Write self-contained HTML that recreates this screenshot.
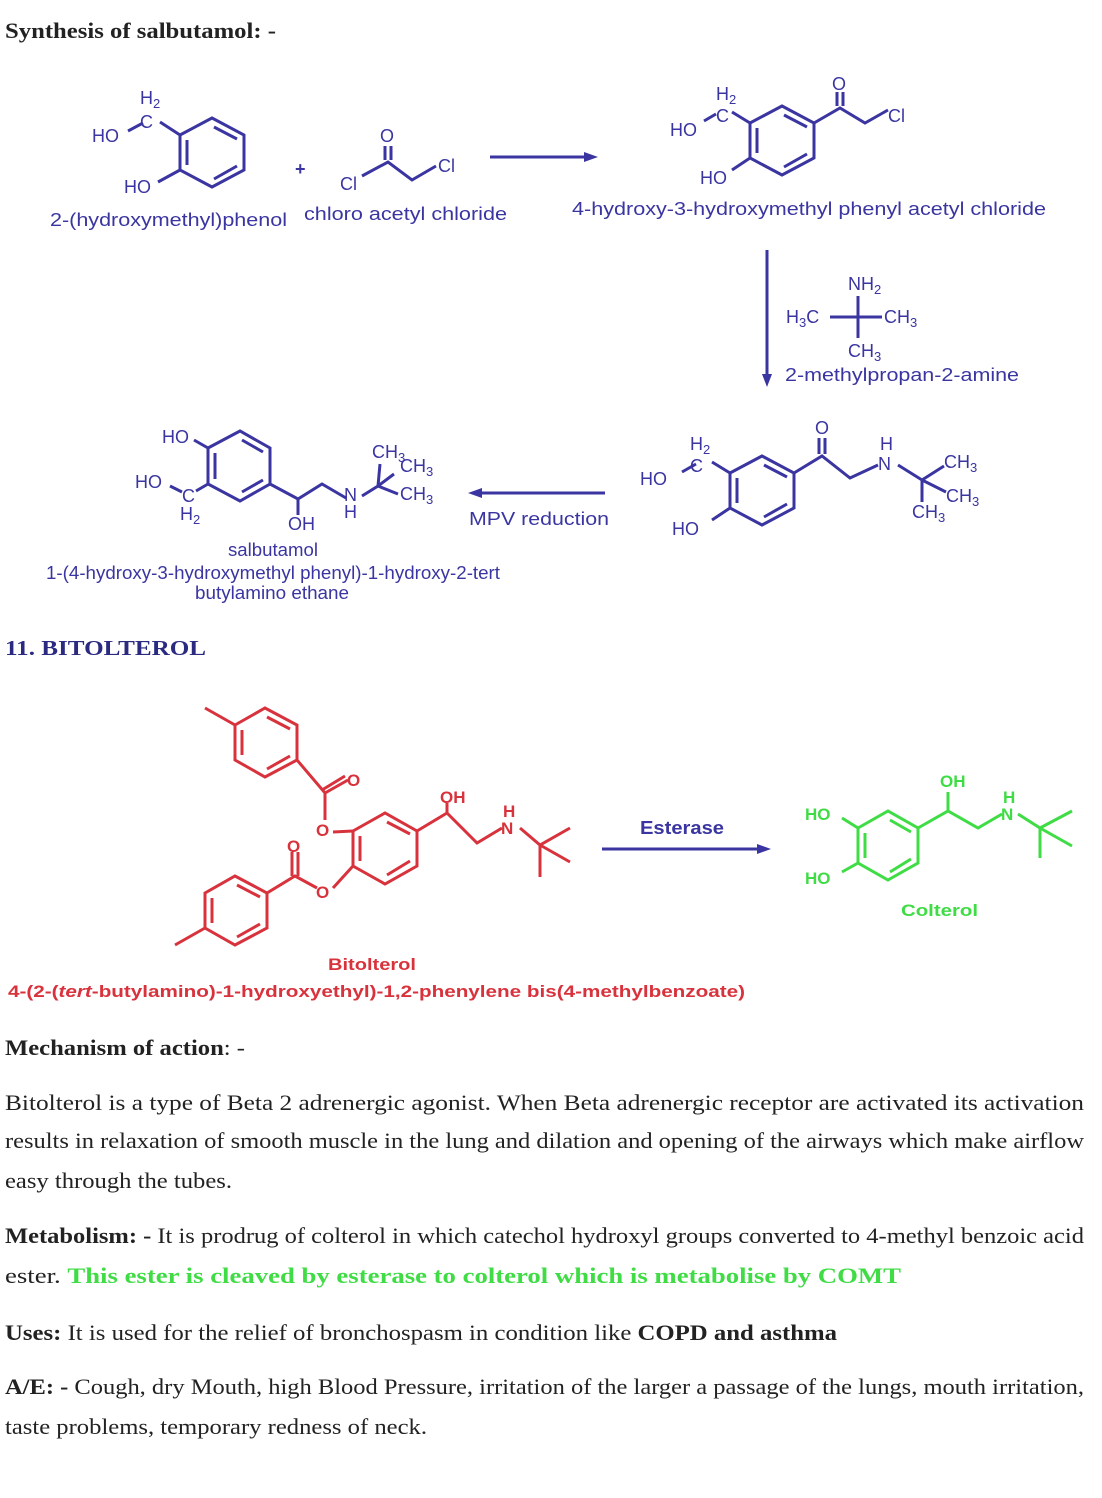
<!DOCTYPE html>
<html><head><meta charset="utf-8"><style>
html,body{margin:0;padding:0;background:#fff;}
svg{display:block}
.b{fill:none;stroke:#3a35a0;stroke-width:3}
.r{fill:none;stroke:#d8323c;stroke-width:3}
.g{fill:none;stroke:#3fdc45;stroke-width:3}
.tb{font-family:"Liberation Sans",sans-serif;fill:#3a35a0;font-size:18px}
.tr{font-family:"Liberation Sans",sans-serif;fill:#d8323c;font-size:17px;font-weight:bold}
.tg{font-family:"Liberation Sans",sans-serif;fill:#3fdc45;font-size:17px;font-weight:bold}
.s{font-family:"Liberation Serif",serif;font-size:22px;fill:#222}
</style></head><body>
<svg width="1102" height="1498" viewBox="0 0 1102 1498" xmlns="http://www.w3.org/2000/svg">
<text class="s" x="5" y="38" font-weight="bold" textLength="271" lengthAdjust="spacingAndGlyphs">Synthesis of salbutamol: -</text>

<!-- structure 1 -->
<polygon class="b" points="180,135 212,118 244,135 244,170 212,187 180,170"/>
<path class="b" d="M187,140 L187,165 M214,127 L237,139 M237,166 L214,179"/>
<path class="b" d="M180,135 L160,122 M143,123 L128,131 M180,170 L158,182"/>
<text class="tb" x="140" y="104">H<tspan font-size="13" dy="4">2</tspan></text>
<text class="tb" x="140" y="128">C</text>
<text class="tb" x="92" y="142">HO</text>
<text class="tb" x="124" y="193">HO</text>
<text class="tb" x="295" y="175" font-weight="bold" font-size="20">+</text>
<text class="tb" x="340" y="190">Cl</text>
<text class="tb" x="380" y="142">O</text>
<path class="b" d="M362,176 L388,162 L412,180 L436,166 M385,160 L385,146 M391,160 L391,146"/>
<text class="tb" x="438" y="172">Cl</text>
<text class="tb" x="50" y="226" font-size="19" textLength="237" lengthAdjust="spacingAndGlyphs">2-(hydroxymethyl)phenol</text>
<text class="tb" x="304" y="220" font-size="19" textLength="203" lengthAdjust="spacingAndGlyphs">chloro acetyl chloride</text>
<path class="b" d="M490,157 L590,157"/><polygon points="598,157 584,152 584,162" fill="#3a35a0"/>

<!-- product 1 -->
<polygon class="b" points="750,123 782,106 814,123 814,158 782,175 750,158"/>
<path class="b" d="M757,128 L757,153 M784,115 L807,127 M807,154 L784,167"/>
<path class="b" d="M750,123 L732,112 M716,114 L704,121 M750,158 L732,170 M814,123 L840,108 L865,123 L888,110 M837,106 L837,92 M843,106 L843,92"/>
<text class="tb" x="716" y="100">H<tspan font-size="13" dy="4">2</tspan></text>
<text class="tb" x="716" y="122">C</text>
<text class="tb" x="670" y="136">HO</text>
<text class="tb" x="700" y="184">HO</text>
<text class="tb" x="832" y="90">O</text>
<text class="tb" x="888" y="122">Cl</text>
<text class="tb" x="572" y="215" font-size="19" textLength="474" lengthAdjust="spacingAndGlyphs">4-hydroxy-3-hydroxymethyl phenyl acetyl chloride</text>

<path class="b" d="M767,250 L767,378" stroke-width="2"/><polygon points="767,387 762,374 772,374" fill="#3a35a0"/>
<text class="tb" x="848" y="290">NH<tspan font-size="13" dy="4">2</tspan></text>
<text class="tb" x="786" y="323">H<tspan font-size="13" dy="4">3</tspan><tspan dy="-4">C</tspan></text>
<text class="tb" x="884" y="323">CH<tspan font-size="13" dy="4">3</tspan></text>
<text class="tb" x="848" y="357">CH<tspan font-size="13" dy="4">3</tspan></text>
<path class="b" d="M830,317 L882,317 M858,296 L858,338" stroke-width="2"/>
<text class="tb" x="785" y="381" font-size="19" textLength="234" lengthAdjust="spacingAndGlyphs">2-methylpropan-2-amine</text>

<!-- intermediate -->
<polygon class="b" points="730,473 762,456 794,473 794,508 762,525 730,508"/>
<path class="b" d="M737,478 L737,503 M764,465 L787,477 M787,504 L764,517"/>
<path class="b" d="M730,473 L712,462 M696,464 L682,472 M730,508 L712,520 M794,473 L822,456 L850,478 L878,465 M819,454 L819,438 M825,454 L825,438 M898,465 L922,480 L944,466 M922,480 L946,492 M922,480 L922,502"/>
<text class="tb" x="690" y="450">H<tspan font-size="13" dy="4">2</tspan></text>
<text class="tb" x="690" y="472">C</text>
<text class="tb" x="640" y="485">HO</text>
<text class="tb" x="672" y="535">HO</text>
<text class="tb" x="815" y="434">O</text>
<text class="tb" x="880" y="450">H</text>
<text class="tb" x="878" y="470">N</text>
<text class="tb" x="944" y="468">CH<tspan font-size="13" dy="4">3</tspan></text>
<text class="tb" x="946" y="502">CH<tspan font-size="13" dy="4">3</tspan></text>
<text class="tb" x="912" y="518">CH<tspan font-size="13" dy="4">3</tspan></text>

<path class="b" d="M605,493 L478,493" stroke-width="2"/><polygon points="468,493 482,488 482,498" fill="#3a35a0"/>
<text class="tb" x="469" y="525" font-size="19" textLength="140" lengthAdjust="spacingAndGlyphs">MPV reduction</text>

<!-- salbutamol -->
<polygon class="b" points="208,448 240,431 270,448 270,484 240,501 208,484"/>
<path class="b" d="M215,453 L215,479 M242,440 L263,452 M263,480 L242,492"/>
<path class="b" d="M208,448 L194,440 M208,484 L196,491 M170,486 L182,492 M270,484 L298,499 L322,484 L346,498 M298,499 L298,515 M362,496 L378,486 L394,474 M378,486 L398,494 M378,486 L380,464"/>
<text class="tb" x="162" y="443">HO</text>
<text class="tb" x="135" y="488">HO</text>
<text class="tb" x="182" y="502">C</text>
<text class="tb" x="180" y="520">H<tspan font-size="13" dy="4">2</tspan></text>
<text class="tb" x="288" y="530">OH</text>
<text class="tb" x="344" y="501">N</text>
<text class="tb" x="344" y="518">H</text>
<text class="tb" x="372" y="458">CH<tspan font-size="13" dy="4">3</tspan></text>
<text class="tb" x="400" y="472">CH<tspan font-size="13" dy="4">3</tspan></text>
<text class="tb" x="400" y="500">CH<tspan font-size="13" dy="4">3</tspan></text>
<text class="tb" x="228" y="556" font-size="15" textLength="90" lengthAdjust="spacingAndGlyphs">salbutamol</text>
<text class="tb" x="46" y="579" font-size="15" textLength="454" lengthAdjust="spacingAndGlyphs">1-(4-hydroxy-3-hydroxymethyl phenyl)-1-hydroxy-2-tert</text>
<text class="tb" x="195" y="599" font-size="15" textLength="154" lengthAdjust="spacingAndGlyphs">butylamino ethane</text>

<text x="5" y="655" font-family="Liberation Serif,serif" font-size="21" font-weight="bold" fill="#2a2a80" textLength="201" lengthAdjust="spacingAndGlyphs">11. BITOLTEROL</text>

<!-- bitolterol -->
<polygon class="r" points="353,831 385,813 417,831 417,866 385,884 353,866"/>
<path class="r" d="M360,836 L360,861 M387,822 L410,834 M410,861 L387,875"/>
<polygon class="r" points="235,725 265,708 297,725 297,760 265,777 235,760"/>
<path class="r" d="M242,730 L242,755 M267,717 L290,729 M290,756 L267,769 M235,725 L205,708 M297,760 L325,793 L348,780 M322,790 L345,776 M325,793 L325,820 M333,832 L353,831 M333,888 L353,866"/>
<polygon class="r" points="205,893 235,876 267,893 267,928 235,945 205,928"/>
<path class="r" d="M212,898 L212,923 M237,885 L260,897 M260,924 L237,937 M205,928 L175,945 M267,893 L295,876 L317,888 M292,876 L292,852 M298,876 L298,852 M417,831 L447,813 L477,843 L502,828 M447,813 L447,803 M520,828 L540,845 L570,828 M540,845 L570,862 M540,845 L540,877"/>
<text class="tr" x="347" y="786">O</text>
<text class="tr" x="316" y="836">O</text>
<text class="tr" x="316" y="898">O</text>
<text class="tr" x="287" y="852">O</text>
<text class="tr" x="440" y="803">OH</text>
<text class="tr" x="503" y="817">H</text>
<text class="tr" x="501" y="834">N</text>
<text class="tr" x="328" y="970" textLength="88" lengthAdjust="spacingAndGlyphs">Bitolterol</text>
<text class="tr" x="8" y="997" textLength="737" lengthAdjust="spacingAndGlyphs">4-(2-(<tspan font-style="italic">tert</tspan>-butylamino)-1-hydroxyethyl)-1,2-phenylene bis(4-methylbenzoate)</text>

<path class="b" d="M602,849 L762,849" stroke-width="2"/><polygon points="771,849 757,844 757,854" fill="#3a35a0"/>
<text class="tb" x="640" y="834" font-weight="bold" font-size="17" textLength="84" lengthAdjust="spacingAndGlyphs">Esterase</text>

<!-- colterol -->
<polygon class="g" points="858,828 888,811 918,828 918,863 888,880 858,863"/>
<path class="g" d="M865,833 L865,858 M890,820 L911,832 M911,859 L890,872 M858,828 L842,818 M858,863 L842,872 M918,828 L948,811 L978,828 L1002,814 M948,811 L948,792 M1018,814 L1040,828 L1072,811 M1040,828 L1072,846 M1040,828 L1040,858"/>
<text class="tg" x="805" y="820">HO</text>
<text class="tg" x="805" y="884">HO</text>
<text class="tg" x="940" y="787">OH</text>
<text class="tg" x="1003" y="803">H</text>
<text class="tg" x="1001" y="820">N</text>
<text class="tg" x="901" y="916" textLength="77" lengthAdjust="spacingAndGlyphs">Colterol</text>

<!-- text -->
<text class="s" x="5" y="1055" textLength="240" lengthAdjust="spacingAndGlyphs"><tspan font-weight="bold">Mechanism of action</tspan>: -</text>
<text class="s" x="5" y="1110" textLength="1079" lengthAdjust="spacingAndGlyphs">Bitolterol is a type of Beta 2 adrenergic agonist. When Beta adrenergic receptor are activated its activation</text>
<text class="s" x="5" y="1148" textLength="1079" lengthAdjust="spacingAndGlyphs">results in relaxation of smooth muscle in the lung and dilation and opening of the airways which make airflow</text>
<text class="s" x="5" y="1188" textLength="227" lengthAdjust="spacingAndGlyphs">easy through the tubes.</text>
<text class="s" x="5" y="1243" textLength="1079" lengthAdjust="spacingAndGlyphs"><tspan font-weight="bold">Metabolism: -</tspan> It is prodrug of colterol in which catechol hydroxyl groups converted to 4-methyl benzoic acid</text>
<text class="s" x="5" y="1283" textLength="896" lengthAdjust="spacingAndGlyphs">ester. <tspan fill="#3fdc45" font-weight="bold">This ester is cleaved by esterase to colterol which is metabolise by COMT</tspan></text>
<text class="s" x="5" y="1340" textLength="832" lengthAdjust="spacingAndGlyphs"><tspan font-weight="bold">Uses:</tspan> It is used for the relief of bronchospasm in condition like <tspan font-weight="bold">COPD and asthma</tspan></text>
<text class="s" x="5" y="1394" textLength="1079" lengthAdjust="spacingAndGlyphs"><tspan font-weight="bold">A/E: -</tspan> Cough, dry Mouth, high Blood Pressure, irritation of the larger a passage of the lungs, mouth irritation,</text>
<text class="s" x="5" y="1434" textLength="422" lengthAdjust="spacingAndGlyphs">taste problems, temporary redness of neck.</text>
</svg>
</body></html>
